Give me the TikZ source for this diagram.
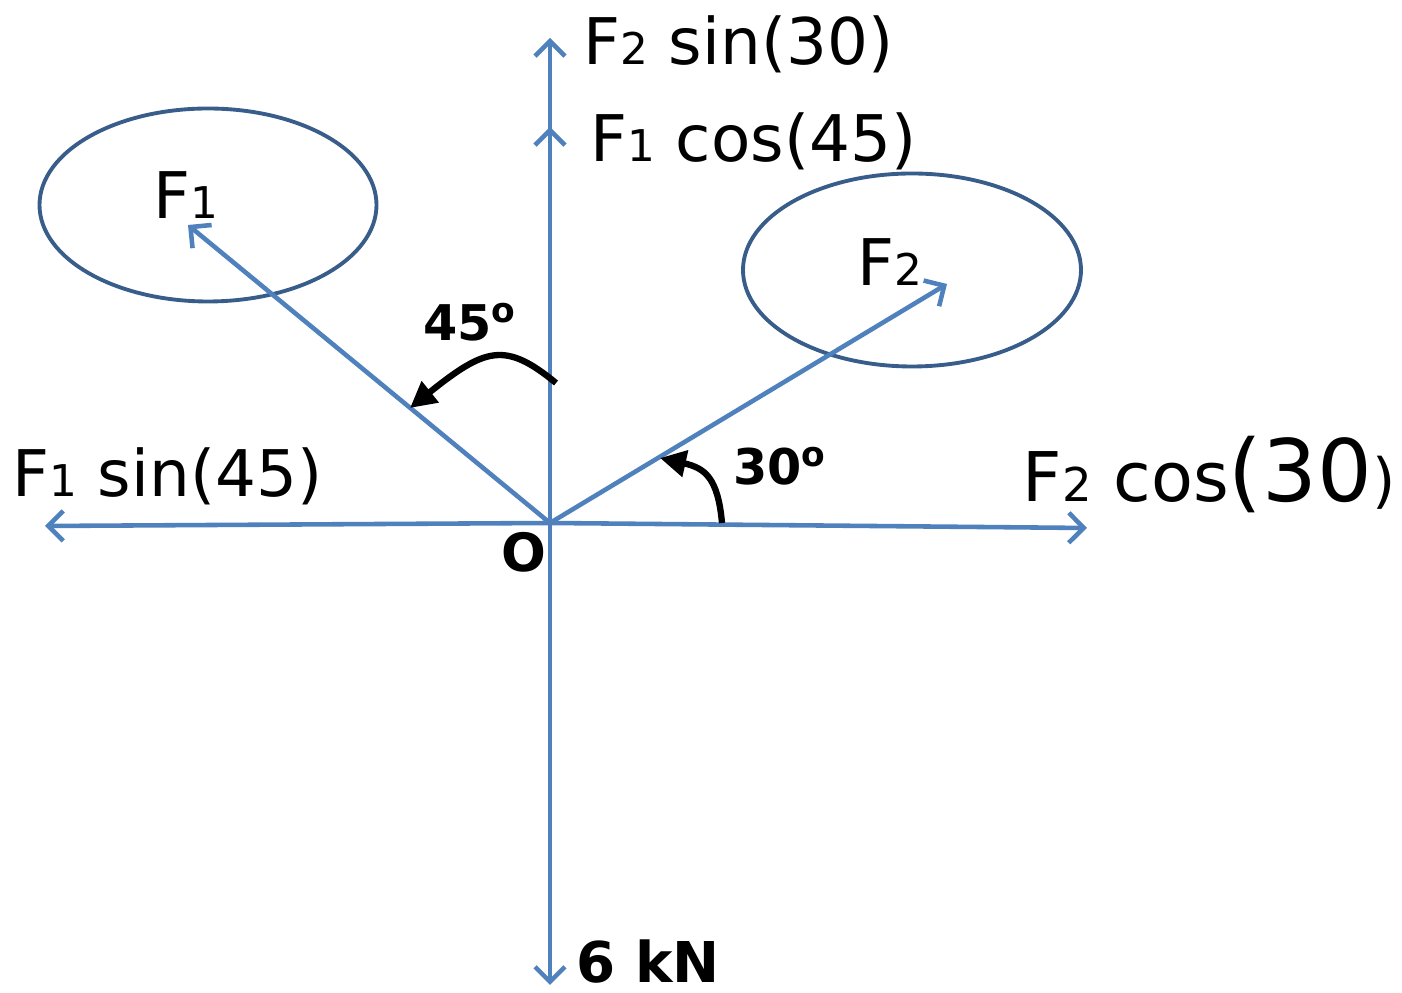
\documentclass[tikz,border=0pt]{standalone}
\usepackage{fontspec}
\setmainfont{DejaVu Sans}
\usepackage{graphicx}
\usepackage{tikz}
\usetikzlibrary{arrows.meta,shapes.geometric}
\definecolor{axisblue}{HTML}{4F81BD}
\definecolor{ringblue}{HTML}{385D8A}
\newcommand{\force}[1]{F\scalebox{0.68}{#1}}
\tikzset{
  vec/.style   = {draw=axisblue, line width=1.3pt,
                  -{Straight Barb[length=1.5mm, width=3mm, line width=1.3pt]}},
  ring/.style  = {ellipse, draw=ringblue, line width=1.1pt, inner sep=0pt},
  turn/.style  = {draw=black, line width=1.8pt,
                  -{Triangle[length=2.6mm, width=2.6mm]}},
  comp/.style  = {inner sep=0pt, anchor=base west, font=\fontsize{18.3}{21}\selectfont},
  ang/.style   = {inner sep=0pt, font=\bfseries\fontsize{14}{16}\selectfont},
}

\begin{document}
\begin{tikzpicture}
\useasboundingbox (0,0) rectangle (14.02,9.93);

% ---- points -----------------------------------------------------------
\coordinate (O)    at (5.50,4.70);
\coordinate (up)   at (5.50,9.55);
\coordinate (upF1) at (5.50,8.66);
\coordinate (down) at (5.50,0.08);
\coordinate (left) at (0.45,4.67);
\coordinate (right) at (10.87,4.65);
\coordinate (tipA) at (1.88,7.68);
\coordinate (tipB) at (9.47,7.09);

% ---- the two forces in their rings ------------------------------------
\node[ring, minimum width=33.7mm, minimum height=19.3mm] at (2.08,7.88) (ringA) {};
\node[ring, minimum width=33.8mm, minimum height=19.3mm] at (9.12,7.23) (ringB) {};
\node[comp, anchor=center] at (1.86,7.98) (lblA) {\force{1}};
\node[comp, anchor=center] at (8.90,7.31) (lblB) {\force{2}};

% ---- components -------------------------------------------------------
\draw[vec] (O) -- (up);
\draw[vec] (O) -- (upF1);
\draw[vec] (O) -- (down);
\draw[vec] (O) -- (left);
\draw[vec] (O) -- (right);
\draw[vec] (O) -- (tipA);
\draw[vec] (O) -- (tipB);

\node[comp] at (5.83,9.28) (sinB) {\force{2} sin(30)};
\node[comp] at (5.90,8.31) (cosA) {\force{1} cos(45)};
\node[comp] at (0.12,4.96) (sinA) {\force{1} sin(45)};
\node[comp, font=\fontsize{19.5}{22}\selectfont] at (10.22,4.91) (cosB)
  {\force{2} cos{\fontsize{24.5}{26}\selectfont(30}{\fontsize{17}{20}\selectfont)}};
\node[ang, anchor=base west, font=\bfseries\fontsize{16}{18}\selectfont] at (5.76,0.10) (load) {6 kN};
\node[ang, font=\bfseries\fontsize{15}{17}\selectfont] at (5.24,4.41) (orig) {O};

% ---- angles -----------------------------------------------------------
\coordinate (a45s) at (5.56,6.10);
\coordinate (a45e) at (4.10,5.85);
\draw[turn] (a45s) .. controls (5.05,6.52) and (4.85,6.45) .. (a45e);
\node[ang] at (4.70,6.71) (deg45) {45\textsuperscript{o}};

\coordinate (a30s) at (7.22,4.70);
\coordinate (a30e) at (6.60,5.35);
\draw[turn] (a30s) .. controls (7.18,5.15) and (7.05,5.25) .. (a30e);
\node[ang] at (7.80,5.27) (deg30) {30\textsuperscript{o}};

\end{tikzpicture}
\end{document}
